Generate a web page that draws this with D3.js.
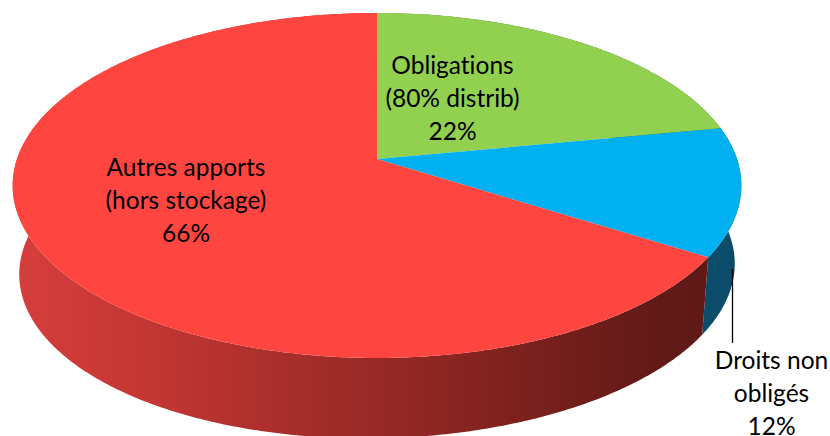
<!DOCTYPE html>
<html>
<head>
<meta charset="utf-8">
<script src="https://cdn.jsdelivr.net/npm/d3@7"></script>
<style>
  html, body { margin: 0; padding: 0; background: #fff; }
  svg { display: block; }
  text { font-family: Lato, "Open Sans", sans-serif; font-size: 24.5px; fill: #000; text-anchor: middle; font-variant-ligatures: none; }
</style>
</head>
<body>
<svg id="chart" width="830" height="436"></svg>
<script>
// slices, clockwise from 12 o'clock
var names = ['Obligations', 'Droits non obligés', 'Autres apports'];
var values = [22, 12, 66];
var label_lines = [
  ['Obligations', '(80% distrib)', '22%'],
  ['Droits non', 'obligés', '12%'],
  ['Autres apports', '(hors stockage)', '66%']
];
var top_colors = ['#92d050', '#00b0f0', '#ff4540'];
var side_colors = ['#4f7a2c', '#0b4c6a', 'url(#red-side)'];

// perspective of the disc
var cx = 377, cy = 159, a = 360, b = 168.4, k = 0.1536;
var depth_y = 84, depth_scale = 0.982, depth_skew = 0.015;

var svg = d3.select('#chart');

var grad = svg.append('defs').append('linearGradient')
    .attr('id', 'red-side')
    .attr('gradientUnits', 'userSpaceOnUse')
    .attr('x1', 13).attr('x2', 741).attr('y1', 0).attr('y2', 0);
[[0, '#d63e3c'], [0.17, '#c53734'], [0.4, '#a52d2a'], [0.65, '#83231f'], [0.85, '#661b18'], [1, '#5a1816']]
  .forEach(s => grad.append('stop').attr('offset', s[0]).attr('stop-color', s[1]));

var pie = d3.pie().sort(null).value(d => d);
var arcs = pie(values);

function project(angle, lower)
{
  var u = Math.sin(angle), v = -Math.cos(angle), w = 1 - k * v;
  if (!lower) return [cx + a * u / w, cy + b * v / w];
  var dx = depth_scale * a * u / w;
  return [cx + dx, cy + depth_y + depth_scale * b * v / w - depth_skew * dx];
}

function angles(arc)
{
  var n = Math.ceil((arc.endAngle - arc.startAngle) / 0.01);
  return d3.range(n + 1).map(i => arc.startAngle + (arc.endAngle - arc.startAngle) * i / n);
}

var line = d3.line();

// sides first, the top faces paint over the hidden part
arcs.forEach((arc, i) => {
  var t = angles(arc);
  var d = d3.range(t.length - 1).map(j =>
    line([project(t[j], false), project(t[j + 1], false), project(t[j + 1], true), project(t[j], true)]) + 'Z'
  ).join('');
  svg.append('path').attr('d', d).attr('fill', side_colors[i]);
});

arcs.forEach((arc, i) => {
  svg.append('path')
    .attr('d', line([[cx, cy]].concat(angles(arc).map(t => project(t, false)))) + 'Z')
    .attr('fill', top_colors[i]);
});

// leader line of the small slice
svg.append('line')
  .attr('x1', 732.5).attr('x2', 732.5)
  .attr('y1', 269).attr('y2', 343)
  .attr('stroke', '#000').attr('stroke-width', 1.3);

var label_pos = [[452.5, 74], [771.5, 369], [186, 176]];
var line_step = 33;

label_lines.forEach((lines, i) => {
  lines.forEach((t, j) => {
    svg.append('text')
      .attr('x', label_pos[i][0])
      .attr('y', label_pos[i][1] + j * line_step)
      .text(t);
  });
});
</script>
</body>
</html>
